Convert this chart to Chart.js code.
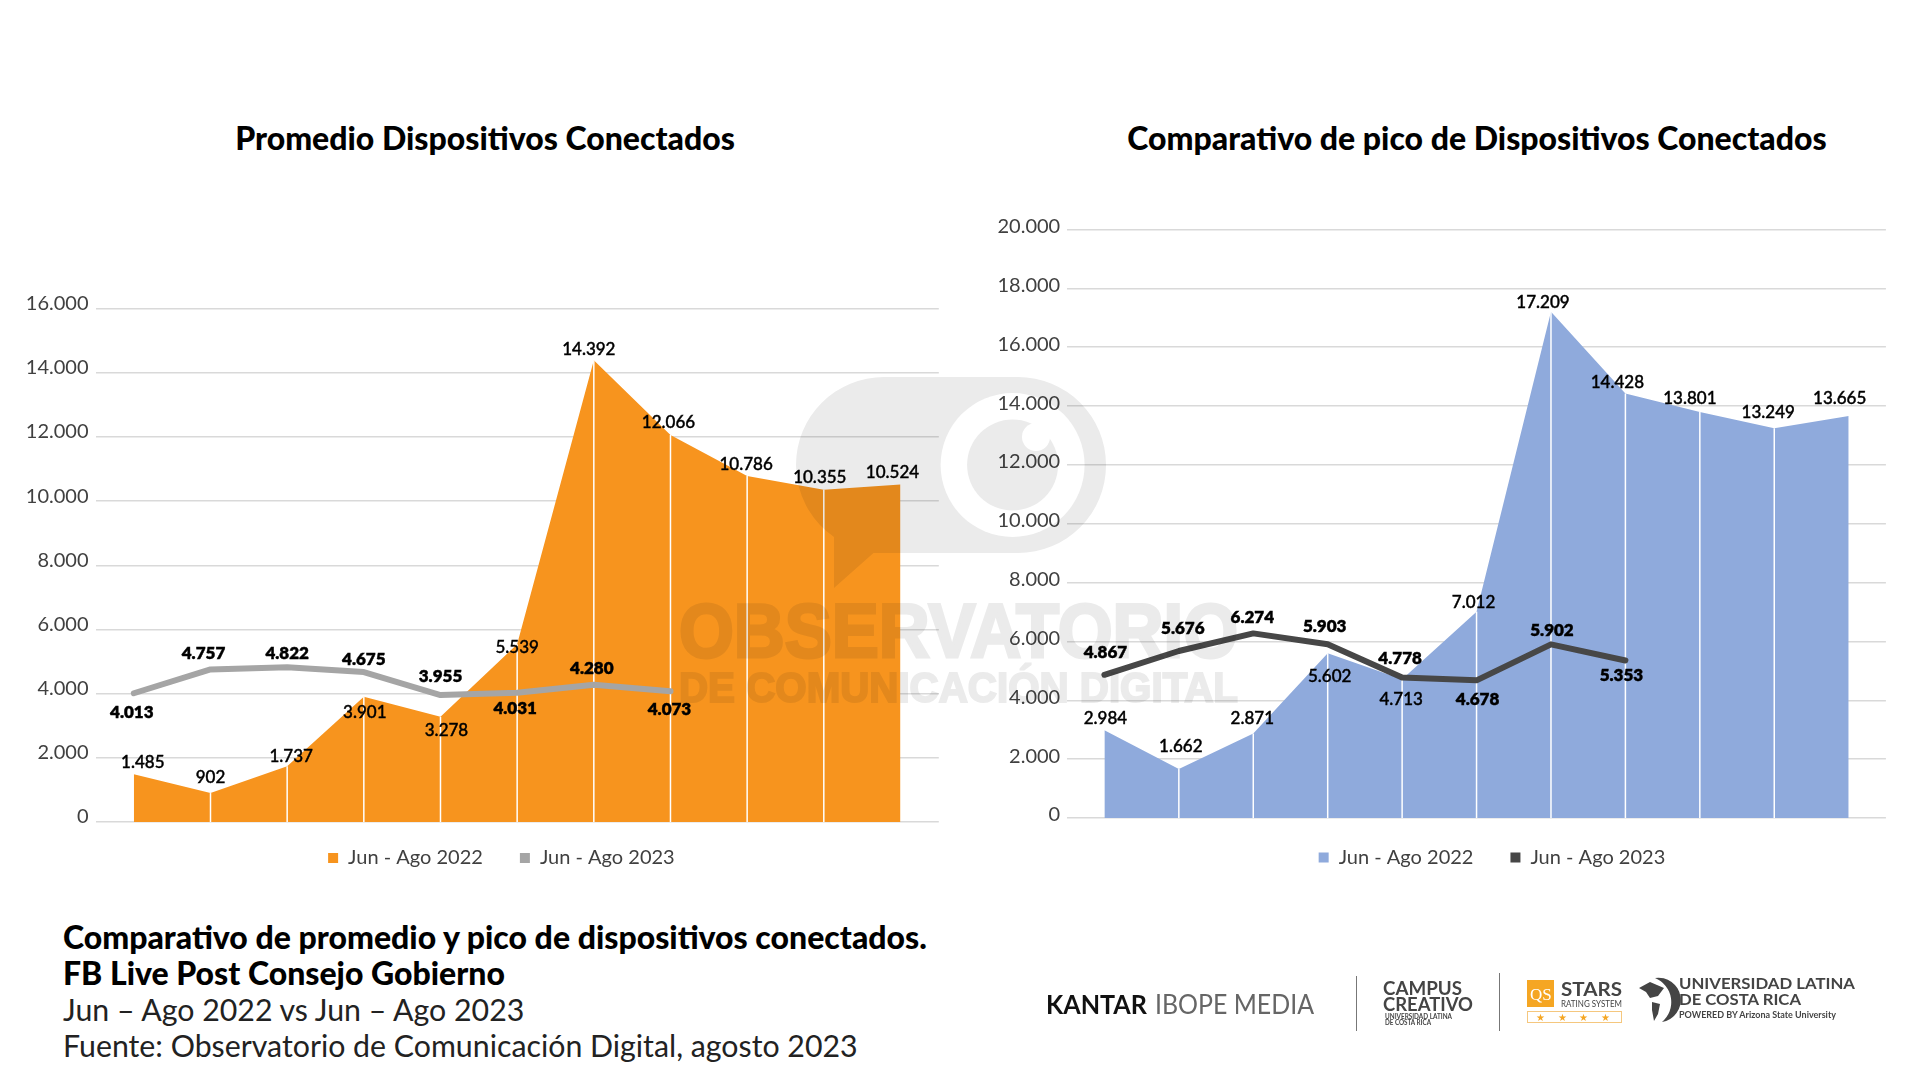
<!DOCTYPE html>
<html lang="es">
<head>
<meta charset="utf-8">
<title>Comparativo de dispositivos conectados</title>
<script src="https://cdn.jsdelivr.net/npm/chart.js@4"></script>
<style>
  html, body { margin: 0; background: #fff; }
  body { width: 1920px; height: 1080px; overflow: hidden; position: relative; font-family: Lato, sans-serif; color: #000; }
  canvas { position: absolute; }
  #chartProm { left: 0; top: 280px; }
  #chartPico { left: 960px; top: 200px; }
  .title { position: absolute; top: 118px; font-size: 32px; font-weight: 900; white-space: nowrap; transform: translateX(-50%); }
  #footer { position: absolute; left: 63px; top: 919px; font-size: 30.3px; line-height: 36px; white-space: nowrap; color: #222; }
  #footer b { color: #000; font-size: 32px; font-weight: 900; }
  #watermark, #logos { position: absolute; left: 0; top: 0; }
  #watermark { mix-blend-mode: multiply; }
</style>
</head>
<body>
<canvas id="chartProm" width="960" height="609"></canvas>
<canvas id="chartPico" width="960" height="685"></canvas>

<div class="title" style="left:485px">Promedio Dispositivos Conectados</div>
<div class="title" style="left:1477px">Comparativo de pico de Dispositivos Conectados</div>

<div id="footer">
  <b>Comparativo de promedio y pico de dispositivos conectados.</b><br>
  <b>FB Live Post Consejo Gobierno</b><br>
  Jun – Ago 2022 vs Jun – Ago 2023<br>
  Fuente: Observatorio de Comunicación Digital, agosto 2023
</div>

<!-- marca de agua sobre los gráficos -->
<svg id="watermark" width="1920" height="1080" viewBox="0 0 1920 1080">
  <path fill="#ebebeb" d="M884 377H1018A88 88 0 0 1 1018 553H873.5L834 588V537A88 88 0 0 1 796 465A88 88 0 0 1 884 377Z"/>
  <circle cx="1012.6" cy="465" r="72" fill="#fff"/>
  <circle cx="1012.6" cy="465" r="45.5" fill="#ebebeb"/>
  <circle cx="1036" cy="437" r="14" fill="#fff"/>
  <g fill="#ebebeb" stroke="#ebebeb" font-family="Liberation Sans" font-weight="700">
    <text x="679" y="657" font-size="76" stroke-width="3" textLength="559" lengthAdjust="spacingAndGlyphs">OBSERVATORIO</text>
    <text x="679" y="702" font-size="42" stroke-width="2" textLength="559" lengthAdjust="spacingAndGlyphs">DE COMUNICACIÓN DIGITAL</text>
  </g>
</svg>

<svg id="logos" width="1920" height="1080" viewBox="0 0 1920 1080" font-family="Lato">
  <text x="1046" y="1014" font-size="26" font-weight="700" fill="#111" textLength="101" lengthAdjust="spacingAndGlyphs">KANTAR</text>
  <text x="1155" y="1014" font-size="26" fill="#666" textLength="159" lengthAdjust="spacingAndGlyphs">IBOPE MEDIA</text>
  <path d="M1356.5 976V1031M1499.5 973V1031" stroke="#777" stroke-width="1"/>
  <g fill="#444" font-weight="700">
    <text x="1383" y="995" font-size="19" textLength="79" lengthAdjust="spacingAndGlyphs">CAMPUS</text>
    <text x="1383" y="1011" font-size="19" textLength="90" lengthAdjust="spacingAndGlyphs">CREATIVO</text>
    <text x="1385" y="1019" font-size="7.5" textLength="67" lengthAdjust="spacingAndGlyphs">UNIVERSIDAD LATINA</text>
    <text x="1385" y="1025" font-size="7.5" textLength="46" lengthAdjust="spacingAndGlyphs">DE COSTA RICA</text>
    <text x="1561" y="996" font-size="19" textLength="61" lengthAdjust="spacingAndGlyphs">STARS</text>
    <text x="1561" y="1007" font-size="9" font-weight="400" textLength="61" lengthAdjust="spacingAndGlyphs">RATING SYSTEM</text>
    <text x="1679" y="989" font-size="16" textLength="176" lengthAdjust="spacingAndGlyphs">UNIVERSIDAD LATINA</text>
    <text x="1679" y="1005" font-size="16" textLength="122" lengthAdjust="spacingAndGlyphs">DE COSTA RICA</text>
    <text x="1679" y="1018" font-size="9" textLength="157" lengthAdjust="spacingAndGlyphs">POWERED BY Arizona State University</text>
  </g>
  <rect x="1527" y="980" width="27" height="27" fill="#f5a623"/>
  <text x="1530" y="1000" font-size="17" fill="#fff" font-family="Liberation Serif">QS</text>
  <rect x="1527.5" y="1011.5" width="94" height="11" fill="#fff" stroke="#f5c77e"/>
  <text x="1536" y="1021" font-size="10" fill="#f5a623" textLength="74">★ ★ ★ ★</text>
  <path fill="#444" d="M1655 978A22 22 0 0 1 1662 1022A26 26 0 0 0 1655 978Z"/>
  <path fill="#444" d="M1639 988L1650 982L1664 988L1658 996L1650 998L1646 992ZM1652 1002L1660 1004L1658 1014L1654 1021L1652 1010Z"/>
</svg>

<script>
// Categorías (sin rótulo visible en el eje)
const weeks = ['1', '2', '3', '4', '5', '6', '7', '8', '9', '10', '11'];
const serie2022Label = 'Jun - Ago 2022';
const serie2023Label = 'Jun - Ago 2023';

// Promedio dispositivos conectados
const promedio2022 = [1485, 902, 1737, 3901, 3278, 5539, 14392, 12066, 10786, 10355, 10524];
const promedio2023 = [4013, 4757, 4822, 4675, 3955, 4031, 4280, 4073];

// Pico de dispositivos conectados
const pico2022 = [2984, 1662, 2871, 5602, 4713, 7012, 17209, 14428, 13801, 13249, 13665];
const pico2023 = [4867, 5676, 6274, 5903, 4778, 4678, 5902, 5353];

// Desplazamiento [dx, dy] de cada rótulo respecto a su punto
const promedio2022Nudge = [[9, -12], [0, -16], [4, -10], [1, 16], [6, 14], [0, 3], [-5, -11], [-2, -12], [-1, -11], [-4, -12], [-8, -12]];
const promedio2023Nudge = [[-2, 19], [-7, -16], [0, -14], [0, -13], [0, -19], [-2, 16], [-2, -16], [-1, 18]];
const pico2022Nudge = [[1, -12], [2, -23], [-1, -15], [2, 23], [-1, 20], [-3, -9], [-8, -9], [-8, -11], [-10, -13], [-6, -16], [-9, -17]];
const pico2023Nudge = [[1, -22], [4, -22], [-1, -16], [-3, -18], [-2, -19], [1, 19], [1, -14], [-4, 15]];

const fmt = (n) => String(n).replace(/\B(?=(\d{3})+$)/g, '.');

// Líneas blancas verticales dentro del área y rótulos de datos
const markPlugin = {
  id: 'marks',
  afterDatasetDraw(chart, args) {
    if (args.index !== 0) return;
    const { ctx, scales } = chart;
    const base = scales.y.getPixelForValue(0);
    const pts = args.meta.data;
    ctx.save();
    ctx.strokeStyle = '#fff';
    ctx.lineWidth = 1.5;
    pts.slice(1, -1).forEach((p) => {
      ctx.beginPath();
      ctx.moveTo(p.x, p.y);
      ctx.lineTo(p.x, base);
      ctx.stroke();
    });
    ctx.restore();
  },
  afterDatasetsDraw(chart) {
    const { ctx } = chart;
    ctx.save();
    ctx.fillStyle = '#000';
    ctx.strokeStyle = '#000';
    ctx.lineWidth = 0.4;
    ctx.textAlign = 'center';
    ctx.textBaseline = 'middle';
    chart.data.datasets.forEach((ds, i) => {
      ctx.font = `${ds.labelWeight} 17px Lato`;
      chart.getDatasetMeta(i).data.forEach((p, j) => {
        const [dx, dy] = ds.nudge[j];
        const txt = fmt(ds.data[j]);
        ctx.fillText(txt, p.x + dx, p.y + dy);
        ctx.strokeText(txt, p.x + dx, p.y + dy);
      });
    });
    ctx.restore();
  },
};

// Mueve la leyenda a su sitio sin alterar el área del gráfico
const legendNudgePlugin = {
  id: 'legendNudge',
  afterLayout(chart, args, opts) {
    const lg = chart.legend;
    lg.left += opts.dx;
    lg.right += opts.dx;
    lg.top += opts.dy;
    lg.bottom += opts.dy;
  },
};

function renderChart(id, cfg) {
  return new Chart(document.getElementById(id).getContext('2d'), {
    type: 'line',
    data: {
      labels: weeks,
      datasets: [
        {
          label: serie2022Label,
          data: cfg.area,
          nudge: cfg.areaNudge,
          labelWeight: 500,
          fill: 'origin',
          backgroundColor: cfg.areaColor,
          borderColor: cfg.areaColor,
          borderWidth: 0,
          tension: 0,
          pointRadius: 0,
          order: 2,
        },
        {
          label: serie2023Label,
          data: cfg.line,
          nudge: cfg.lineNudge,
          labelWeight: 800,
          fill: false,
          backgroundColor: cfg.lineColor,
          borderColor: cfg.lineColor,
          borderWidth: 6,
          borderCapStyle: 'round',
          borderJoinStyle: 'round',
          tension: 0,
          pointRadius: 0,
          order: 1,
        },
      ],
    },
    options: {
      responsive: false,
      animation: false,
      layout: { padding: cfg.padding },
      plugins: {
        title: { display: false },
        tooltip: { enabled: false },
        legendNudge: cfg.legendNudge,
        legend: {
          position: 'bottom',
          labels: {
            color: '#404040',
            font: { family: 'Lato', size: 20 },
            boxWidth: 10,
            boxHeight: 10,
            padding: 37,
            sort: (a, b) => a.datasetIndex - b.datasetIndex,
            generateLabels: (chart) =>
              Chart.defaults.plugins.legend.labels.generateLabels(chart).map((item) => ({
                ...item,
                fillStyle: item.strokeStyle,
                lineWidth: 0,
              })),
          },
        },
      },
      scales: {
        x: { display: false, offset: true },
        y: {
          min: 0,
          max: cfg.max,
          afterFit: (scale) => { scale.width = cfg.axisWidth; },
          border: { display: false },
          grid: { color: '#d9d9d9', lineWidth: 1.5, drawTicks: false },
          ticks: {
            stepSize: 2000,
            padding: 7,
            labelOffset: cfg.tickOffset,
            color: '#404040',
            font: { family: 'Lato', size: 20 },
            callback: (v) => fmt(v),
          },
        },
      },
    },
    plugins: [markPlugin, legendNudgePlugin],
  });
}

renderChart('chartProm', {
  area: promedio2022,
  areaNudge: promedio2022Nudge,
  line: promedio2023,
  lineNudge: promedio2023Nudge,
  areaColor: '#F7941E',
  lineColor: '#A5A5A5',
  max: 16000,
  axisWidth: 95.5,
  tickOffset: -5,
  padding: { top: 28.7, right: 21.2, left: 0, bottom: 0 },
  legendNudge: { dx: 32, dy: -11 },
});

renderChart('chartPico', {
  area: pico2022,
  areaNudge: pico2022Nudge,
  line: pico2023,
  lineNudge: pico2023Nudge,
  areaColor: '#8FAADC',
  lineColor: '#474747',
  max: 20000,
  axisWidth: 107.2,
  tickOffset: -3,
  padding: { top: 29.5, right: 34.1, left: 0, bottom: 0 },
  legendNudge: { dx: 69, dy: -7.4 },
});
</script>
</body>
</html>
